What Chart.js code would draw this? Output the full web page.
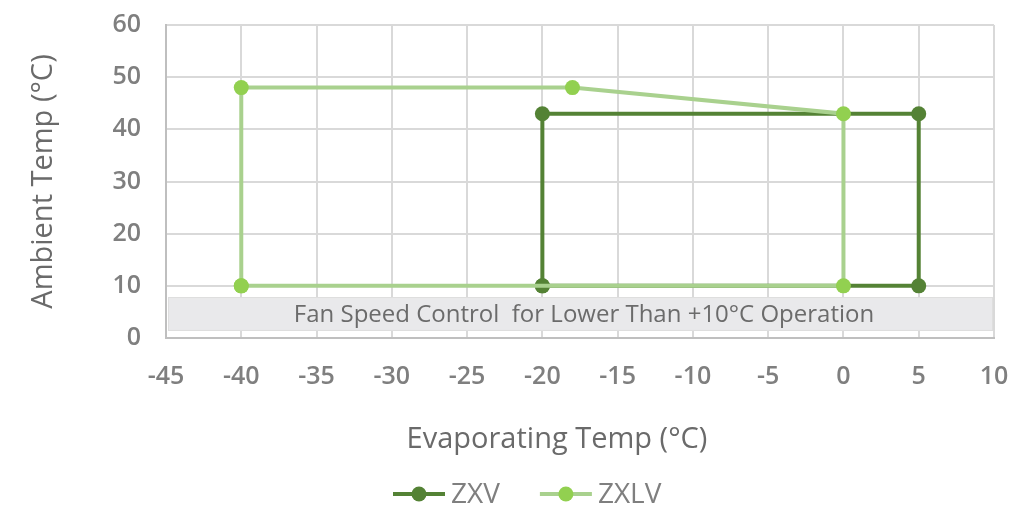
<!DOCTYPE html>
<html><head><meta charset="utf-8">
<script src="https://cdn.jsdelivr.net/npm/chart.js@4"></script>
<style>html,body{margin:0;padding:0;background:#fff}#wrap{width:1021px;height:508px}</style>
</head><body><div id="wrap"><canvas id="c" width="1021" height="508"></canvas></div>
<script>
const zxvX = [-20, -20, 5, 5, -20];
const zxvY = [10, 43, 43, 10, 10];
const zxlvX = [-40, -40, -18, 0, 0, -40];
const zxlvY = [10, 48, 48, 43, 10, 10];
const seriesNames = ['ZXV', 'ZXLV'];
const xTicks = [-45, -40, -35, -30, -25, -20, -15, -10, -5, 0, 5, 10];
const yTicks = [0, 10, 20, 30, 40, 50, 60];
const bandY = [1.35, 7.85];
const bandLabel = 'Fan Speed Control  for Lower Than +10\u00B0C Operation';
const xTitle = 'Evaporating Temp (\u00B0C)';
const yTitle = 'Ambient Temp (\u00B0C)';

const FONT = "'Open Sans', sans-serif";
const DARK = '#548235', LIGHT_LINE = '#a9d18e', LIGHT_PT = '#92d050';
const TEXT = '#7f7f7f', TITLE = '#6a6a6a';

const decorPlugin = {
  id: 'decor',
  beforeDatasetsDraw(chart) {
    const { ctx, chartArea, scales } = chart;
    const y1 = scales.y.getPixelForValue(bandY[1]);
    const y0 = scales.y.getPixelForValue(bandY[0]);
    const l = chartArea.left + 2, r = chartArea.right - 1;
    ctx.save();
    ctx.fillStyle = '#e9e9eb';
    ctx.fillRect(l, y1, r - l, y0 - y1);
    ctx.strokeStyle = '#dedede'; ctx.lineWidth = 1;
    ctx.strokeRect(l + 0.5, y1 + 0.5, r - l - 1, y0 - y1 - 1);
    ctx.fillStyle = '#6b6b6b';
    ctx.font = "24px " + FONT;
    ctx.textAlign = 'center'; ctx.textBaseline = 'middle';
    ctx.fillText(bandLabel, 584, (y0 + y1) / 2 + 1);
    ctx.restore();
  },
  afterDraw(chart) {
    const { ctx } = chart;
    ctx.save();
    // x axis title
    ctx.fillStyle = TITLE;
    ctx.font = "29px " + FONT;
    ctx.textAlign = 'center'; ctx.textBaseline = 'middle';
    ctx.fillText(xTitle, 557, 440);
    // legend
    const items = [
      { name: seriesNames[0], line: DARK, pt: DARK },
      { name: seriesNames[1], line: LIGHT_LINE, pt: LIGHT_PT }
    ];
    ctx.font = "28px " + FONT;
    ctx.textAlign = 'left';
    let x = 393; const y = 494;
    items.forEach(it => {
      ctx.strokeStyle = it.line; ctx.lineWidth = 4;
      ctx.beginPath(); ctx.moveTo(x, y); ctx.lineTo(x + 52, y); ctx.stroke();
      ctx.fillStyle = it.pt; ctx.beginPath(); ctx.arc(x + 26, y, 7.5, 0, Math.PI * 2); ctx.fill();
      ctx.fillStyle = TEXT;
      ctx.fillText(it.name, x + 58, y + 1);
      x += 58 + ctx.measureText(it.name).width + 40;
    });
    ctx.restore();
  }
};

new Chart(document.getElementById('c'), {
  type: 'scatter',
  data: {
    datasets: [
      { label: seriesNames[0], data: zxvX.map((x, i) => ({ x, y: zxvY[i] })), showLine: true,
        borderColor: DARK, backgroundColor: DARK, borderWidth: 4, pointRadius: 7.5, pointHoverRadius: 7.5,
        pointBackgroundColor: DARK, pointBorderWidth: 0, order: 2 },
      { label: seriesNames[1], data: zxlvX.map((x, i) => ({ x, y: zxlvY[i] })), showLine: true,
        borderColor: LIGHT_LINE, backgroundColor: LIGHT_PT, borderWidth: 4, pointRadius: 7.5, pointHoverRadius: 7.5,
        pointBackgroundColor: LIGHT_PT, pointBorderWidth: 0, order: 1 }
    ]
  },
  options: {
    responsive: false, animation: false,
    layout: { padding: { top: 25, right: 27, left: 26, bottom: 0 } },
    plugins: { tooltip: { enabled: false }, legend: { display: false } },
    scales: {
      x: {
        type: 'linear', min: -45, max: 10,
        afterBuildTicks(s) { s.ticks = xTicks.map(v => ({ value: v })); },
        afterFit(s) { s.height = 170; s.paddingLeft = 0; s.paddingRight = 0; },
        ticks: { color: TEXT, font: { family: FONT, size: 25, weight: '600' }, padding: 24 },
        grid: { color: '#d9d9d9', lineWidth: 2, drawTicks: false },
        border: { color: '#bfbfbf', width: 2 }
      },
      y: {
        min: 0, max: 60,
        afterBuildTicks(s) { s.ticks = yTicks.map(v => ({ value: v })); },
        afterFit(s) { s.width = 140; s.paddingTop = 0; s.paddingBottom = 0; },
        ticks: { color: TEXT, font: { family: FONT, size: 25, weight: '600' }, padding: 25 },
        grid: { color: '#d9d9d9', lineWidth: 2, drawTicks: false },
        border: { color: '#bfbfbf', width: 2 },
        title: { display: true, text: yTitle, color: TITLE, font: { family: FONT, size: 29 }, padding: { top: 0, bottom: 0 } }
      }
    }
  },
  plugins: [decorPlugin]
});
</script></body></html>
